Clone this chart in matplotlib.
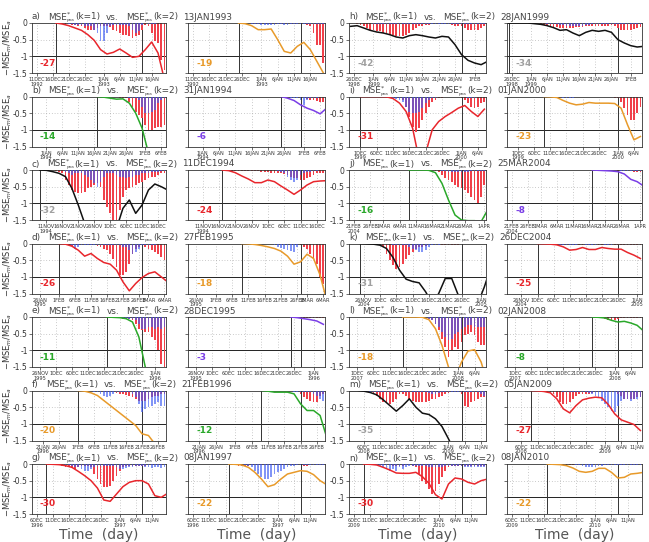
import datetime as dt
import numpy as np
import matplotlib
matplotlib.use("Agg")
import matplotlib.pyplot as plt

# ---- data: x axis is days relative to the event date, lines every 2 days from init ----
ROW_LETTERS_L = ['a', 'b', 'c', 'd', 'e', 'f', 'g']
ROW_LETTERS_R = ['h', 'i', 'j', 'k', 'l', 'm', 'n']
EVENTS_L = ['13JAN1993', '31JAN1994', '11DEC1994', '27FEB1995', '28DEC1995', '21FEB1996', '08JAN1997']
EVENTS_R = ['28JAN1999', '01JAN2000', '25MAR2004', '26DEC2004', '02JAN2008', '05JAN2009', '08JAN2010']

LEADS = [[-27, -19], [-14, -6], [-32, -24], [-26, -18], [-11, -3], [-20, -12], [-30, -22],
         [-42, -34], [-31, -23], [-16, -8], [-31, -25], [-18, -8], [-35, -27], [-30, -22]]
LINE_COLORS = [['red', 'orange'], ['green', 'purple'], ['black', 'red'], ['red', 'orange'],
               ['green', 'purple'], ['orange', 'green'], ['red', 'orange'],
               ['black', 'black'], ['red', 'orange'], ['green', 'purple'], ['black', 'red'],
               ['orange', 'green'], ['black', 'red'], ['red', 'orange']]

A1_LINE = [0, -0.03, -0.08, -0.15, -0.22, -0.35, -0.52, -0.8, -0.93, -0.88, -0.78, -0.9, -1.03, -1.0, -0.8, -0.57, -0.9, -1.7]
A1_RED = [-0.02, -0.02, -0.03, -0.03, -0.05, -0.05, -0.08, -0.1, -0.15, -0.2, -0.2, -0.2, -0.15, -0.1, -0.1, -0.1, -0.12,
          -0.2, -0.25, -0.3, -0.35, -0.35, -0.4, -0.45, -0.4, -0.35, -0.2, -0.05, -0.1, -0.3, -0.55, -0.6, -1.1, -1.4]
A1_BLUE = [0, 0, 0, -0.02, -0.03, -0.05, -0.05, -0.05, -0.08, -0.1, -0.1, -0.2, -0.3, -0.55, -0.55, -0.3, -0.1,
           -0.05, -0.05, -0.05, -0.05, -0.05, -0.1, -0.2, -0.3, -0.25, -0.05, 0, -0.03, -0.03, -0.02, 0, 0, 0]
A2_LINE = [0, -0.02, -0.08, -0.2, -0.2, -0.18, -0.5, -0.85, -0.9, -0.7, -0.58, -0.8, -1.15, -1.5]
A2_RED = [-0.01, -0.01, -0.01, -0.02, -0.02, -0.02, -0.03, -0.03, -0.03, -0.03, -0.02, -0.02, -0.02,
          -0.03, -0.03, -0.02, -0.02, -0.02, -0.02, -0.03, -0.05, -0.08, -0.3, -0.65, -0.65, -1.2]
A2_BLUE = [0, 0, 0, -0.02, -0.03, -0.03, -0.05, -0.05, -0.05, -0.05, -0.05, -0.03, -0.03,
           -0.05, -0.05, -0.03, -0.03, -0.02, -0.02, -0.02, -0.02, -0.02, -0.02, -0.02, -0.02, -0.02]

B1_LINE = [0, -0.02, -0.05, -0.08, -0.07, -0.2, -0.5, -0.95, -1.7]
B1_RED = [-0.01, -0.01, -0.01, -0.01, -0.02, -0.02, -0.03, -0.03, -0.05, -0.15, -0.3, -0.45, -0.55,
          -0.65, -0.85, -1.0, -1.0, -0.95, -0.9, -0.9, -0.85]
B1_BLUE = [0, 0, 0, 0, 0, 0, 0, 0, -0.02, -0.03, -0.03, -0.05, -0.1, -0.3, -0.5, -0.5, -0.45, -0.4, -0.2, -0.1, -0.05]
B2_LINE = [0, -0.05, -0.12, -0.25, -0.35, -0.42, -0.52, -0.35]
B2_RED = [-0.01, -0.01, -0.01, -0.01, -0.02, -0.03, -0.05, -0.08, -0.1, -0.1, -0.12, -0.15, -0.15]
B2_BLUE = [-0.02, -0.02, -0.03, -0.05, -0.05, -0.1, -0.25, -0.1, -0.05, -0.05, -0.03, -0.02, -0.02]

C1_LINE = [0, -0.01, -0.05, -0.1, -0.2, -0.55, -1.05, -1.6, -2.2, -2.5, -2.4, -2.0, -1.75, -1.15, -0.9, -1.3,
           -1.05, -0.6, -0.42, -0.5, -0.6]
C1_RED = [0, 0, 0, -0.01, -0.02, -0.05, -0.1, -0.3, -0.45, -0.6, -0.65, -0.7, -0.7, -0.65,
          -0.55, -0.5, -0.45, -0.4, -0.5, -0.9, -1.1, -1.3, -1.5, -1.5, -1.2, -0.8, -0.6, -0.55,
          -0.5, -0.45, -0.4, -0.35, -0.3, -0.25, -0.2, -0.2, -0.15, -0.1, -0.1]
C1_BLUE = [0, 0, 0, 0, 0, 0, 0, -0.05, -0.1, -0.15, -0.1, -0.1, -0.1, -0.15,
           -0.2, -0.3, -0.4, -0.5, -0.35, -0.2, -0.1, -0.1, -0.1, -0.15, -0.2, -0.2, -0.25, -0.2,
           -0.2, -0.15, -0.15, -0.1, -0.1, -0.1, -0.05, -0.05, -0.05, -0.03, -0.02]
C2_LINE = [0, -0.02, -0.08, -0.18, -0.27, -0.38, -0.38, -0.3, -0.35, -0.48, -0.6, -0.73, -0.6, -0.45, -0.35, -0.33, -0.32]
C2_RED = [-0.02, -0.02, -0.02, -0.02, -0.02, -0.02, -0.02, -0.02, -0.02, -0.02, -0.02,
          -0.05, -0.05, -0.05, -0.08, -0.1, -0.1, -0.1, -0.12, -0.15,
          -0.2, -0.25, -0.25, -0.3, -0.3, -0.25, -0.2, -0.15, -0.1, -0.1, -0.1]
C2_BLUE = [0, 0, 0, 0, 0, 0, 0, 0, 0, 0, 0, 0, 0, 0, 0, 0,
           -0.03, -0.05, -0.1, -0.2, -0.3, -0.35, -0.3, -0.15, -0.1, -0.05, -0.05, -0.03, -0.02, 0, 0]

D1_LINE = [0, -0.02, -0.08, -0.2, -0.38, -0.3, -0.45, -0.57, -0.62, -0.8, -1.15, -1.42, -1.2, -1.02, -0.9, -0.85, -1.0, -1.15]
D1_RED = [-0.02, -0.03, -0.05, -0.08, -0.05, -0.03, -0.03, -0.03, -0.05, -0.05,
          -0.05, -0.08, -0.1, -0.15, -0.2, -0.3, -0.45, -0.7, -0.95, -0.95, -0.85, -0.6, -0.3, -0.15,
          -0.1, -0.05, -0.1, -0.15, -0.2, -0.25, -0.3, -0.4, -0.5]
D1_BLUE = [0, 0, 0, -0.05, -0.15, -0.1, -0.05, -0.05, -0.05, -0.05,
           -0.05, -0.05, -0.05, -0.05, -0.05, -0.05, -0.05, -0.05, -0.05, -0.1, -0.1, -0.2, -0.3, -0.25,
           -0.15, -0.05, -0.03, -0.03, -0.03, -0.03, -0.02, -0.02, -0.02]
D2_LINE = [0, -0.01, -0.03, -0.06, -0.1, -0.15, -0.23, -0.38, -0.62, -0.55, -0.32, -0.45, -0.95, -1.7]
D2_RED = [-0.01, -0.01, -0.01, -0.01, -0.01, -0.01, -0.01, -0.01, -0.01, -0.01, -0.01, -0.01, -0.01, -0.01, -0.01, -0.01,
          -0.03, -0.05, -0.1, -0.15, -0.3, -0.45, -0.6, -1.0, -1.2]
D2_BLUE = [0, 0, 0, 0, 0, 0, 0, 0, 0, -0.05, -0.1, -0.12, -0.15, -0.2, -0.22, -0.25, -0.1,
           -0.02, -0.02, -0.02, -0.02, -0.02, -0.02, -0.02, -0.02]

E1_LINE = [0, -0.01, -0.02, -0.05, -0.15, -0.6, -1.5, -2.0]
E1_RED = [-0.02, -0.02, -0.03, -0.03, -0.05, -0.05, -0.05, -0.08, -0.2, -0.35, -0.4, -0.45, -0.45, -0.6, -0.7, -1.0, -1.4, -1.5]
E1_BLUE = [0, 0, 0, 0, -0.02, -0.03, -0.05, -0.05, -0.1, -0.2, -0.35, -0.35, -0.3, -0.3, -0.35, -0.3, -0.35, -0.3]
E2_LINE = [0, -0.02, -0.05, -0.08, -0.12, -0.22]
E2_RED = [-0.01, -0.01, -0.02, -0.02, -0.02, -0.02, -0.02, -0.02, -0.03, -0.03]
E2_BLUE = [0, 0, -0.01, -0.01, -0.01, -0.01, -0.01, -0.01, -0.01, -0.01]

F1_LINE = [0, -0.02, -0.07, -0.15, -0.3, -0.45, -0.6, -0.75, -0.9, -1.05, -1.3, -1.35, -1.6]
F1_RED = [0, 0, 0, 0, 0, -0.01, -0.02, -0.03, -0.03, -0.05, -0.05, -0.08, -0.1, -0.1, -0.12, -0.15, -0.2, -0.25, -0.3,
          -0.3, -0.3, -0.25, -0.2, -0.15, -0.15, -0.1, -0.1]
F1_BLUE = [0, 0, 0, 0, -0.03, -0.05, -0.1, -0.15, -0.2, -0.15, -0.1, -0.05, -0.05, -0.05, -0.05, -0.05, -0.1, -0.2, -0.4,
           -0.65, -0.55, -0.5, -0.45, -0.4, -0.35, -0.45, -0.45]
F2_LINE = [0, -0.02, -0.05, -0.05, -0.05, -0.1, -0.4, -0.6, -0.6, -0.75, -1.4]
F2_RED = [-0.02, -0.02, -0.02, -0.02, -0.02, -0.02, -0.02, -0.02, -0.02, -0.02, -0.02,
          -0.1, -0.2, -0.25, -0.3, -0.35, -0.35, -0.15, -0.1]
F2_BLUE = [0, 0, 0, 0, 0, 0, 0, 0, -0.02, -0.03, -0.03, -0.05, -0.05, -0.05, -0.05, -0.1, -0.15, -0.25, -0.3]

G1_LINE = [0, -0.01, -0.02, -0.05, -0.1, -0.22, -0.35, -0.5, -0.72, -1.08, -1.12, -0.9, -0.68, -0.55, -0.5, -0.5,
           -0.6, -0.95, -1.0, -0.88]
G1_RED = [-0.01, -0.01, -0.02, -0.03, -0.05, -0.08, -0.1, -0.12, -0.15, -0.1, -0.05, -0.05, -0.05, -0.1,
          -0.3, -0.45, -0.6, -0.7, -0.7, -0.65, -0.5, -0.35, -0.2, -0.1, -0.05, -0.05, -0.05, -0.05,
          -0.05, -0.05, -0.05, -0.03, -0.03, -0.03, -0.02, -0.02, -0.02]
G1_BLUE = [0, 0, 0, 0, 0, -0.02, -0.03, -0.05, -0.08, -0.1, -0.15, -0.2, -0.2, -0.15,
           -0.1, -0.05, -0.05, -0.05, -0.05, -0.05, -0.05, -0.1, -0.15, -0.15, -0.12, -0.1, -0.08, -0.05,
           -0.05, -0.05, -0.1, -0.1, -0.12, -0.1, -0.1, -0.12, -0.1]
G2_LINE = [0, -0.01, -0.03, -0.1, -0.25, -0.45, -0.68, -0.62, -0.45, -0.3, -0.25, -0.2, -0.22, -0.32, -0.5, -0.62]
G2_RED = [-0.02, -0.03, -0.05, -0.05, -0.05, -0.05, -0.03, -0.03, -0.03, -0.03, -0.03, -0.03, -0.03, -0.03,
          -0.03, -0.03, -0.03, -0.03, -0.03, -0.03, -0.03, -0.03, -0.05, -0.05, -0.03, -0.03, -0.02, -0.02, -0.02]
G2_BLUE = [0, 0, 0, 0, -0.02, -0.05, -0.1, -0.2, -0.3, -0.4, -0.45, -0.45, -0.4, -0.3, -0.25, -0.2, -0.15, -0.1,
           -0.05, -0.05, -0.03, -0.02, -0.02, -0.02, -0.02, -0.02, -0.02, -0.02, -0.02]

H1_LINE = [-0.1, -0.08, -0.15, -0.22, -0.27, -0.3, -0.35, -0.42, -0.45, -0.38, -0.35, -0.38, -0.42, -0.45, -0.4,
           -0.42, -0.65, -0.95, -1.12, -1.2, -1.25, -1.15]
H1_RED = [0, 0, -0.02, -0.05, -0.1, -0.15, -0.2, -0.2, -0.25, -0.25, -0.3, -0.3, -0.35, -0.35,
          -0.4, -0.4, -0.4, -0.35, -0.3, -0.2, -0.15, -0.1, -0.08, -0.05, -0.05, -0.03, -0.03, -0.02,
          -0.02, -0.02, -0.03, -0.05, -0.08, -0.1, -0.1, -0.15, -0.2, -0.2, -0.2, -0.2, -0.15, -0.1]
H1_BLUE = [0, 0, 0, 0, 0, 0, 0, -0.02, -0.02, -0.02, -0.02, -0.02, -0.02, -0.02,
           -0.02, -0.02, -0.02, -0.02, -0.02, -0.02, -0.02, -0.02, -0.02, -0.02, -0.02, -0.02, -0.02, -0.02,
           -0.02, -0.02, -0.02, -0.02, -0.02, -0.02, -0.02, -0.02, -0.02, -0.02, -0.02, -0.02, -0.02, -0.02]
H2_LINE = [0, 0, 0, 0, -0.02, -0.04, -0.08, -0.14, -0.22, -0.2, -0.3, -0.38, -0.28, -0.22, -0.25, -0.22, -0.28,
           -0.5, -0.6, -0.68, -0.72, -0.7]
H2_RED = [0, 0, 0, 0, 0, 0, 0, 0, 0, -0.02, -0.05,
          -0.1, -0.1, -0.12, -0.12, -0.15, -0.15, -0.15, -0.15, -0.15, -0.12,
          -0.12, -0.12, -0.1, -0.1, -0.1, -0.1, -0.1, -0.08, -0.08, -0.08,
          -0.05, -0.1, -0.15, -0.2, -0.2, -0.2, -0.2, -0.18, -0.15, -0.12]
H2_BLUE = [0, 0, 0, 0, 0, 0, 0, 0, 0, 0, 0,
           -0.02, -0.02, -0.03, -0.03, -0.05, -0.05, -0.08, -0.1, -0.1, -0.1,
           -0.1, -0.08, -0.05, -0.05, -0.03, -0.03, -0.03, -0.02, -0.02, -0.02,
           -0.02, -0.02, -0.02, -0.02, -0.02, -0.03, -0.03, -0.02, -0.02, -0.02]

I1_LINE = [0, 0, 0, 0, -0.01, -0.06, -0.2, -0.45, -0.95, -1.9, -1.7, -1.0, -0.75, -0.6, -0.48, -0.35, -0.27,
           -0.45, -0.6, -0.38]
I1_RED = [0, 0, 0, 0, 0, 0, 0, 0, -0.01, -0.02, -0.03,
          -0.05, -0.1, -0.3, -0.6, -0.9, -1.05, -0.95, -0.7, -0.5, -0.3,
          -0.15, -0.1, -0.05, -0.03, -0.02, -0.02, -0.02, -0.02, -0.02,
          -0.05, -0.1, -0.2, -0.3, -0.35, -0.3, -0.2, -0.15]
I1_BLUE = [0, 0, 0, 0, 0, 0, 0, 0, -0.02, -0.05, -0.08,
           -0.1, -0.15, -0.3, -0.45, -0.5, -0.5, -0.45, -0.35, -0.2, -0.1,
           -0.05, -0.03, -0.02, -0.02, -0.02, -0.02, -0.02, -0.02, -0.02,
           -0.02, -0.02, -0.03, -0.03, -0.03, -0.02, -0.02, -0.02]
I2_LINE = [0, -0.01, -0.03, -0.12, -0.2, -0.25, -0.23, -0.18, -0.2, -0.2, -0.2, -0.21, -0.35, -0.85, -1.3, -1.2]
I2_RED = [-0.01, -0.01, -0.01, -0.01, -0.02, -0.02, -0.02, -0.01, -0.01, -0.01, -0.01, -0.01, -0.02, -0.02,
          -0.02, -0.02, -0.01, -0.01, -0.01, -0.02, -0.02, -0.03,
          -0.05, -0.15, -0.35, -0.55, -0.7, -0.7, -0.5, -0.3]
I2_BLUE = [0, 0, 0, -0.02, -0.02, -0.03, -0.03, -0.03, -0.03, -0.02, -0.02, -0.02, -0.02, -0.02,
           -0.02, -0.02, -0.02, -0.02, -0.02, -0.02, -0.02, -0.02,
           -0.02, -0.02, -0.02, -0.02, -0.02, -0.02, -0.02, -0.02]

J1_LINE = [0, 0, 0, -0.01, -0.08, -0.4, -0.9, -1.35, -1.5, -1.52, -1.52, -1.55, -1.2]
J1_RED = [0, 0, 0, 0, 0, 0, -0.01, -0.02, -0.05,
          -0.15, -0.25, -0.3, -0.35, -0.45, -0.5, -0.55, -0.6, -0.7, -0.8, -0.9, -1.0, -0.8, -0.45]
J1_BLUE = [0, 0, 0, 0, 0, 0, 0, 0, 0,
           -0.02, -0.03, -0.05, -0.05, -0.05, -0.05, -0.05, -0.05, -0.05, -0.03, -0.03, -0.03, -0.03, -0.03]
J2_LINE = [0, -0.01, -0.02, -0.03, -0.05, -0.12, -0.28, -0.35, -0.48]
J2_RED = [-0.01, -0.01, -0.01, -0.01, -0.01, -0.01, -0.01, -0.02, -0.02, -0.03, -0.03, -0.03, -0.05, -0.05, -0.05]
J2_BLUE = [-0.01, -0.01, -0.01, -0.01, -0.01, -0.01, -0.01, -0.01, -0.02, -0.02, -0.02, -0.02, -0.02, -0.02, -0.02]

K1_LINE = [0, -0.01, -0.02, -0.05, -0.15, -0.42, -0.8, -1.07, -1.14, -1.18, -1.45, -1.8, -1.5, -1.05, -1.05, -1.55,
           -2.0, -2.1, -1.8, -1.3, -0.7]
K1_RED = [0, 0, 0, -0.01, -0.02, -0.05, -0.1,
          -0.3, -0.5, -0.65, -0.75, -0.7, -0.6, -0.45, -0.35, -0.25,
          -0.15, -0.1, -0.1, -0.08, -0.05, -0.05, -0.05, -0.05, -0.05,
          -0.05, -0.05, -0.05, -0.03, -0.03, -0.02, -0.02, -0.02, -0.01, -0.01, -0.01, -0.01, -0.01]
K1_BLUE = [0, 0, 0, 0, 0, 0, 0,
           -0.02, -0.02, -0.03, -0.03, -0.05, -0.05, -0.05, -0.1, -0.15,
           -0.2, -0.25, -0.25, -0.2, -0.1, -0.05, -0.03, -0.03, -0.02,
           -0.02, -0.02, -0.02, -0.02, -0.02, -0.02, -0.02, -0.02, -0.02, 0, 0, 0, 0]
K2_LINE = [0, -0.01, -0.02, -0.04, -0.1, -0.2, -0.18, -0.12, -0.18, -0.18, -0.12, -0.15, -0.17, -0.17, -0.27, -0.35, -0.45]
K2_RED = [-0.01, -0.01, -0.02, -0.02, -0.03, -0.03, -0.05, -0.05, -0.05, -0.05, -0.04, -0.04, -0.05, -0.05, -0.05, -0.04,
          -0.04, -0.05, -0.05, -0.04, -0.04, -0.04, -0.05, -0.05, -0.05, -0.05, -0.04, -0.04, -0.03, -0.03, -0.03, -0.03]
K2_BLUE = [0, 0, 0, 0, -0.02, -0.02, -0.03, -0.03, -0.03, -0.03, -0.03, -0.03, -0.02, -0.02, -0.03, -0.03,
           -0.03, -0.03, -0.02, -0.02, -0.03, -0.03, -0.03, -0.02, -0.02, -0.02, -0.02, -0.02, -0.02, -0.02, -0.02, -0.02]

L1_LINE = [0, 0, 0, -0.01, -0.08, -0.35, -0.85, -1.5, -1.85, -1.35, -1.02, -0.98, -1.35, -2.0]
L1_RED = [0, 0, 0, 0, 0, 0, -0.01, -0.05, -0.1, -0.2,
          -0.4, -0.65, -0.9, -1.2, -1.0, -0.9, -0.95, -0.75, -0.55, -0.5, -0.45, -0.55, -0.75, -0.85, -0.85]
L1_BLUE = [0, 0, 0, 0, 0, 0, 0, -0.05, -0.1, -0.2,
           -0.3, -0.45, -0.6, -0.7, -0.65, -0.5, -0.45, -0.35, -0.3, -0.25, -0.25, -0.3, -0.3, -0.3, -0.3]
L2_LINE = [0, -0.01, -0.03, -0.1, -0.15, -0.13, -0.18, -0.25, -0.42]
L2_RED = [-0.01, -0.01, -0.02, -0.05, -0.08, -0.1, -0.08, -0.05, -0.03, -0.02, -0.02, -0.02, -0.02, -0.02, -0.02]
L2_BLUE = [-0.01, -0.01, -0.01, -0.01, -0.01, -0.01, -0.01, -0.01, -0.01, -0.01, -0.01, -0.01, -0.01, -0.01, -0.01]

M1_LINE = [0, 0, -0.02, -0.06, -0.13, -0.28, -0.45, -0.62, -0.45, -0.25, -0.5, -0.68, -0.72, -0.85, -1.08, -1.45,
           -1.85, -2.2]
M1_RED = [0, 0, 0, 0, -0.02, -0.05, -0.08,
          -0.1, -0.15, -0.25, -0.35, -0.35, -0.4, -0.35,
          -0.25, -0.1, -0.1, -0.15, -0.25, -0.3, -0.35,
          -0.35, -0.35, -0.35, -0.3, -0.25, -0.25, -0.2,
          -0.15, -0.1, -0.08, -0.05, -0.05, -0.05, -0.1,
          -0.45, -0.5, -0.35, -0.3, -0.25, -0.2, -0.2]
M1_BLUE = [0, 0, 0, -0.02, -0.05, -0.05, -0.05,
           -0.05, -0.05, -0.03, -0.03, -0.03, -0.03, -0.03,
           -0.03, -0.03, -0.03, -0.03, -0.03, -0.03, -0.03,
           -0.05, -0.05, -0.05, -0.08, -0.1, -0.1, -0.08,
           -0.05, -0.05, -0.05, -0.05, -0.05, -0.03, -0.03,
           -0.05, -0.05, -0.05, -0.05, -0.05, -0.1, -0.15]
M2_LINE = [0, -0.01, -0.03, -0.07, -0.25, -0.55, -0.67, -0.45, -0.28, -0.23, -0.2, -0.22, -0.42, -0.7, -0.88, -0.95,
           -1.02, -1.2]
M2_RED = [0, 0, -0.01, -0.02, -0.03, -0.05, -0.1,
          -0.2, -0.35, -0.4, -0.4, -0.35, -0.25, -0.15,
          -0.1, -0.1, -0.1, -0.1, -0.08, -0.05, -0.05,
          -0.05, -0.05, -0.05, -0.05, -0.05, -0.1, -0.15,
          -0.25, -0.25, -0.25, -0.25, -0.2, -0.2]
M2_BLUE = [0, 0, 0, 0, 0, 0, 0,
           -0.02, -0.02, -0.03, -0.03, -0.03, -0.03, -0.03,
           -0.03, -0.05, -0.05, -0.08, -0.1, -0.15, -0.2,
           -0.3, -0.4, -0.5, -0.6, -0.65, -0.45, -0.3,
           -0.25, -0.25, -0.3, -0.25, -0.25, -0.2]

N1_LINE = [0, -0.01, -0.03, -0.1, -0.18, -0.27, -0.28, -0.28, -0.25, -0.38, -0.58, -0.92, -1.05, -0.6, -0.42, -0.45,
           -0.55, -0.6, -0.5, -0.45]
N1_RED = [-0.01, -0.02, -0.02, -0.03, -0.03, -0.03, -0.03,
          -0.03, -0.05, -0.05, -0.05, -0.05, -0.03, -0.03,
          -0.05, -0.1, -0.3, -0.5, -0.6, -0.75, -0.9,
          -0.8, -0.6, -0.4, -0.2, -0.1, -0.05, -0.05,
          -0.05, -0.05, -0.05, -0.05, -0.05, -0.05, -0.05, -0.05, -0.05]
N1_BLUE = [0, 0, 0, -0.02, -0.05, -0.1, -0.15,
           -0.2, -0.15, -0.2, -0.1, -0.15, -0.1, -0.05,
           -0.05, -0.05, -0.05, -0.05, -0.05, -0.1, -0.1,
           -0.1, -0.1, -0.1, -0.05, -0.05, -0.05, -0.05,
           -0.05, -0.05, -0.1, -0.1, -0.1, -0.1, -0.1, -0.1, -0.1]
N2_LINE = [0, -0.01, -0.02, -0.05, -0.12, -0.22, -0.25, -0.22, -0.13, -0.13, -0.25, -0.42, -0.4, -0.3, -0.28, -0.25]
N2_RED = [-0.01, -0.01, -0.01, -0.01, -0.02, -0.02, -0.02, -0.02, -0.02, -0.02, -0.02, -0.02, -0.02, -0.02, -0.02,
          -0.02, -0.02, -0.02, -0.03, -0.03, -0.03, -0.03, -0.03, -0.03, -0.02, -0.02, -0.02, -0.02, -0.02]
N2_BLUE = [0, 0, 0, 0, 0, 0, 0, 0, -0.02, -0.03, -0.05, -0.08, -0.1, -0.08, -0.08, -0.05,
           -0.05, -0.03, -0.03, -0.02, -0.02, -0.02, -0.02, -0.02, -0.02, -0.02, -0.02, -0.02, -0.02]

LINES = [[A1_LINE, A2_LINE], [B1_LINE, B2_LINE], [C1_LINE, C2_LINE], [D1_LINE, D2_LINE], [E1_LINE, E2_LINE],
         [F1_LINE, F2_LINE], [G1_LINE, G2_LINE], [H1_LINE, H2_LINE], [I1_LINE, I2_LINE], [J1_LINE, J2_LINE],
         [K1_LINE, K2_LINE], [L1_LINE, L2_LINE], [M1_LINE, M2_LINE], [N1_LINE, N2_LINE]]
REDS = [[A1_RED, A2_RED], [B1_RED, B2_RED], [C1_RED, C2_RED], [D1_RED, D2_RED], [E1_RED, E2_RED],
        [F1_RED, F2_RED], [G1_RED, G2_RED], [H1_RED, H2_RED], [I1_RED, I2_RED], [J1_RED, J2_RED],
        [K1_RED, K2_RED], [L1_RED, L2_RED], [M1_RED, M2_RED], [N1_RED, N2_RED]]
BLUES = [[A1_BLUE, A2_BLUE], [B1_BLUE, B2_BLUE], [C1_BLUE, C2_BLUE], [D1_BLUE, D2_BLUE], [E1_BLUE, E2_BLUE],
         [F1_BLUE, F2_BLUE], [G1_BLUE, G2_BLUE], [H1_BLUE, H2_BLUE], [I1_BLUE, I2_BLUE], [J1_BLUE, J2_BLUE],
         [K1_BLUE, K2_BLUE], [L1_BLUE, L2_BLUE], [M1_BLUE, M2_BLUE], [N1_BLUE, N2_BLUE]]

COLS = {'red': '#e8262c', 'orange': '#e89a2a', 'green': '#2aa82a', 'purple': '#7a3ee6', 'black': '#111111'}
NUM_COLS = {'red': '#e8262c', 'orange': '#e89a2a', 'green': '#2aa82a', 'purple': '#7a3ee6', 'black': '#a0a0a0'}
MONTHS = ['JAN', 'FEB', 'MAR', 'APR', 'MAY', 'JUN', 'JUL', 'AUG', 'SEP', 'OCT', 'NOV', 'DEC']

W, H = 649, 542
XMIN, XMAX = -34.5, 7.5
COL_X = [32, 188, 349, 507]
COL_W = [134, 137, 137, 135]
NARROW = ['Liberation Sans Narrow', 'DejaVu Sans']


def parse_date(s):
    return dt.date(int(s[5:]), MONTHS.index(s[2:5]) + 1, int(s[:2]))


def date_ticks(event):
    pos, labs = [], []
    for d in range(-35, 9):
        day = event + dt.timedelta(days=d)
        if d < XMIN or d > XMAX or day.day not in (1, 6, 11, 16, 21, 26):
            continue
        lab = f"{day.day}{MONTHS[day.month - 1]}"
        if not pos or (day.day == 1 and day.month == 1):
            lab += f"\n{day.year}"
        pos.append(d)
        labs.append(lab)
    return pos, labs


def draw_panel(ax, event, lead, line, red, blue, cname, ylabels):
    ax.set_xlim(XMIN, XMAX)
    ax.set_ylim(-1.5, 0)
    pos, labs = date_ticks(event)
    ax.set_xticks(pos)
    ax.set_xticklabels(labs, fontsize=3.6, linespacing=0.9, family=NARROW, color='#333333')
    ax.set_yticks([0, -0.5, -1, -1.5])
    if ylabels:
        ax.set_yticklabels(['0', '-0.5', '-1', '-1.5'], fontsize=5.5, color='#333333')
    else:
        ax.set_yticklabels([])
    ax.tick_params(length=2, width=0.5, pad=1, colors='#333333')
    for p in pos:
        ax.axvline(p, color='#999999', lw=0.5, ls=(0, (1, 3)), zorder=0)
    ax.axhline(-0.5, color='#999999', lw=0.5, ls=(0, (1, 3)), zorder=0)
    ax.axhline(-1, color='#222222', lw=0.7, zorder=1)
    ax.axvline(0, color='#333333', lw=0.7, zorder=1)
    if lead >= XMIN:
        ax.axvline(lead, color='#333333', lw=0.7, zorder=1)

    b0 = max(lead + 1, -34)
    xb = np.arange(b0, b0 + len(red))
    ax.bar(xb, red, width=0.55, color='#f0404a', zorder=2)
    xb = np.arange(b0, b0 + len(blue))
    ax.bar(xb, blue, width=0.55, color='#3f5cf2', alpha=0.65, zorder=3)

    l0 = max(lead, -34)
    xl = l0 + 2 * np.arange(len(line))
    ax.plot(xl, line, color=COLS[cname], lw=1.1, zorder=4)

    ax.text(-32, -1.2, str(lead), color=NUM_COLS[cname], fontsize=6.5, fontweight='bold',
            va='center', ha='left', zorder=5)
    for s in ax.spines.values():
        s.set_linewidth(0.6)
        s.set_color('#333333')


def title_pieces(fig, rend, x0, base, letter, date):
    # (text, fontsize, gap after px); None marks the stacked * / pna pair
    items = [(letter + ')', 6.4, 7), ('MSE', 6.4, 0), None, ('(k=1)', 6.4, 6),
             ('vs.', 6.4, 7), ('MSE', 6.4, 0), None, ('(k=2)', 6.4, 5), (date, 6.4, 0)]
    x = x0
    for it in items:
        if it is None:
            t1 = fig.text(x / W, 1 - (base - 3.5) / H, '*', fontsize=4.6, color='#444444', va='baseline')
            t2 = fig.text(x / W, 1 - (base + 1.5) / H, 'pna', fontsize=3.0, color='#444444', va='baseline')
            x += max(t1.get_window_extent(rend).width, t2.get_window_extent(rend).width) + 0.5
            continue
        s, fs, gap = it
        t = fig.text(x / W, 1 - base / H, s, fontsize=fs, color='#444444', va='baseline')
        x += t.get_window_extent(rend).width + gap


fig = plt.figure(figsize=(W / 100, H / 100), dpi=100)
rend = fig.canvas.get_renderer()

for g in range(2):
    letters = ROW_LETTERS_L if g == 0 else ROW_LETTERS_R
    events = EVENTS_L if g == 0 else EVENTS_R
    for r in range(7):
        k = g * 7 + r
        top = 23 + 73.5 * r
        ev = parse_date(events[r])
        for c in range(2):
            col = g * 2 + c
            ax = fig.add_axes([COL_X[col] / W, 1 - (top + 50) / H, COL_W[col] / W, 50 / H])
            draw_panel(ax, ev, LEADS[k][c], LINES[k][c], REDS[k][c], BLUES[k][c],
                       LINE_COLORS[k][c], ylabels=(c == 0))
        title_pieces(fig, rend, COL_X[g * 2], top - 3.5, letters[r], events[r])
        if g == 0:
            fig.text(8 / W, 1 - (top + 25) / H, r'$-$MSE$_{m}$/MSE$_{a}$', rotation=90, fontsize=6,
                     color='#333333', va='center', ha='center')

for col in range(4):
    fig.text((COL_X[col] + COL_W[col] / 2) / W, 1 - 535 / H, 'Time  (day)', fontsize=10,
             color='#555555', ha='center', va='center')

fig.savefig('out.png', dpi=100)
